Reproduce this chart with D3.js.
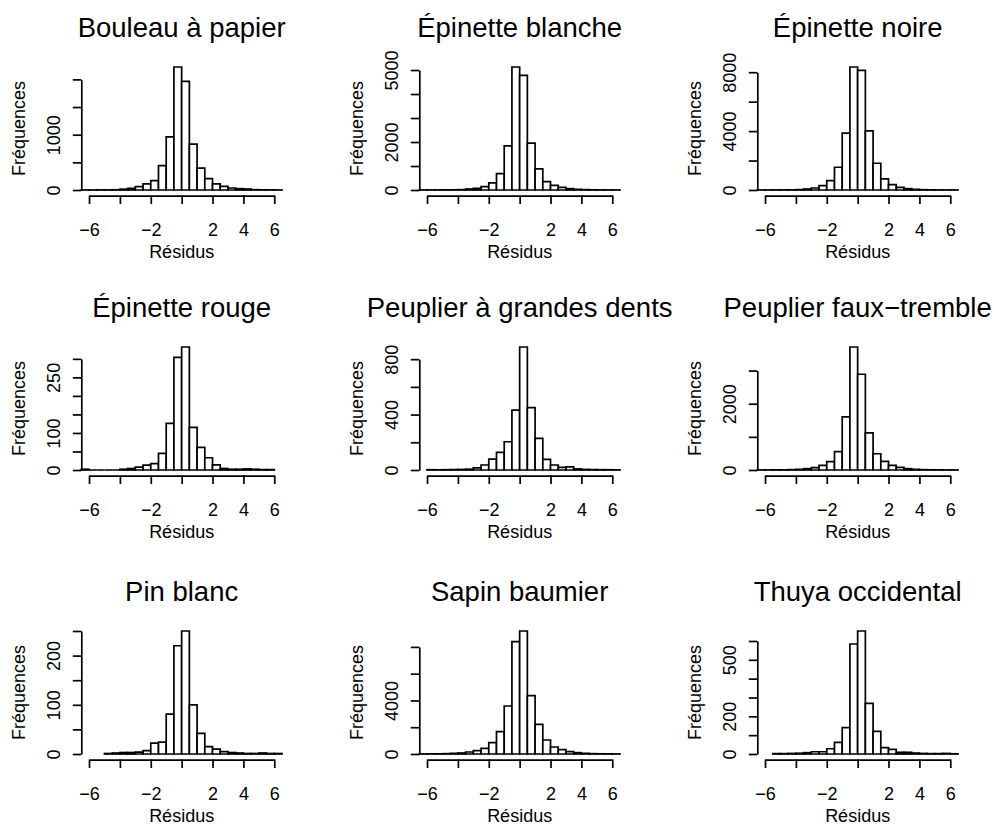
<!DOCTYPE html>
<html>
<head>
<meta charset="utf-8">
<script src="https://cdnjs.cloudflare.com/ajax/libs/d3/7.8.5/d3.min.js"></script>
<style>
body { margin: 0; background: #fff; }
svg text { font-family: "Liberation Sans", Arial, Helvetica, sans-serif; fill: #000; }
.title { font-size: 27.5px; }
.axis text, .lab { font-size: 18px; }
.bar { fill: #fff; stroke: #000; stroke-width: 1.7; }
.axis path, .axis line { stroke: #000; stroke-width: 1.7; }
</style>
</head>
<body>
<svg id="chart" width="994" height="826"></svg>
<script>
/* globals d3 */
"use strict";

// Data: residual histograms, bins of width 0.5

var species = [
    "Bouleau à papier", "Épinette blanche", "Épinette noire",
    "Épinette rouge", "Peuplier à grandes dents", "Peuplier faux−tremble",
    "Pin blanc", "Sapin baumier", "Thuya occidental"
];

// left edge of the first bin of each histogram
var firstBreak = [-6.5, -6.5, -6.5, -6.5, -6, -6.5, -5, -6.5, -5.5];
var binWidth = 0.5;

var bouleauPapier = [1, 1, 2, 2, 4, 15, 30, 60, 110, 170, 440, 960, 2224, 1964, 830, 394, 206, 109, 67, 36, 24, 18, 6, 3, 2, 1];
var epinetteBlanche = [2, 3, 4, 6, 8, 14, 42, 70, 139, 293, 683, 1839, 5126, 4778, 1950, 878, 348, 195, 111, 56, 28, 15, 8, 5, 3, 2];
var epinetteNoire = [3, 4, 6, 8, 12, 23, 68, 136, 295, 636, 1544, 3859, 8354, 8127, 4018, 1816, 749, 363, 182, 91, 45, 20, 10, 6, 4, 3];
var epinetteRouge = [2, 0, 0, 0, 0, 2, 4, 8, 13, 17, 45, 126, 304, 332, 115, 61, 33, 14, 4, 2, 2, 3, 2, 1, 1];
var peuplierGrandesDents = [2, 1, 2, 3, 4, 6, 15, 36, 79, 127, 204, 432, 888, 451, 228, 77, 36, 19, 22, 8, 4, 3, 2, 2, 1];
var peuplierFauxTremble = [2, 3, 4, 5, 10, 20, 40, 70, 140, 251, 552, 1605, 3711, 2889, 1123, 491, 261, 140, 80, 40, 20, 10, 6, 4, 3, 2];
var pinBlanc = [1, 2, 3, 3, 4, 7, 22, 24, 81, 220, 250, 100, 42, 15, 10, 5, 3, 2, 1, 1, 2, 1, 1];
var sapinBaumier = [5, 8, 12, 25, 50, 75, 149, 249, 423, 847, 1668, 3586, 8391, 9188, 4358, 2216, 1046, 523, 324, 174, 100, 50, 25, 15, 10, 5];
var thuyaOccidental = [2, 2, 3, 4, 7, 12, 12, 28, 62, 140, 584, 653, 269, 120, 34, 25, 9, 9, 5, 3, 2, 2, 3, 1];

var counts = [bouleauPapier, epinetteBlanche, epinetteNoire, epinetteRouge,
    peuplierGrandesDents, peuplierFauxTremble, pinBlanc, sapinBaumier, thuyaOccidental];

// y ticks: step between ticks, and which of them get a label (R drops the ones that would overlap)
var yTickStep = [500, 1000, 2000, 50, 200, 1000, 50, 2000, 100];
var yTickLabels = [
    [0, 1000], [0, 2000, 5000], [0, 4000, 8000],
    [0, 100, 250], [0, 400, 800], [0, 2000],
    [0, 100, 200], [0, 4000], [0, 200, 500]
];

var xTicks = [-6, -4, -2, 0, 2, 4, 6];
var xTickLabels = [-6, -2, 2, 4, 6];
var xDomain = [-6.5, 6.5];

// Layout of the 3x3 grid
var colLeft = [81.3, 419.3, 757.3],
    rowZero = [190, 470, 754],
    plotW = 200.7,
    barsH = 123,
    tickLen = 8.5;

var svg = d3.select("#chart");

function fmt(v) {
    return String(v).replace("-", "−");
}

function drawPanel(k) {
    var left = colLeft[k % 3],
        zero = rowZero[Math.floor(k / 3)],
        data = counts[k],
        bins,
        maxCount,
        x,
        y,
        g,
        axisY,
        lastTick,
        yTicks,
        xAxisScale,
        yAxisScale,
        gx,
        gy;

    bins = data.map(function (c, i) {
        var x0 = firstBreak[k] + i * binWidth;
        return {x0: x0, x1: x0 + binWidth, count: c};
    });
    maxCount = d3.max(data);

    x = d3.scaleLinear().domain(xDomain).range([left, left + plotW]);
    y = d3.scaleLinear().domain([0, maxCount]).range([zero, zero - barsH]);

    g = svg.append("g").attr("class", "panel");

    // bars drawn as closed paths so that empty bins still show as a line
    g.selectAll("path.bar")
        .data(bins)
        .enter().append("path")
        .attr("class", "bar")
        .attr("d", function (b) {
            return "M" + x(b.x0) + "," + y(0) +
                "V" + y(b.count) + "H" + x(b.x1) + "V" + y(0) + "Z";
        });

    // x axis sits on the bottom of the plot region (4% below zero)
    axisY = zero + 0.045 * barsH;
    xAxisScale = x.copy().domain([xTicks[0], xTicks[xTicks.length - 1]])
        .range([x(xTicks[0]), x(xTicks[xTicks.length - 1])]);
    gx = g.append("g")
        .attr("class", "axis")
        .attr("transform", "translate(0," + axisY + ")")
        .call(d3.axisBottom(xAxisScale)
            .tickValues(xTicks)
            .tickSize(tickLen)
            .tickSizeOuter(0)
            .tickPadding(19)
            .tickFormat(function (v) {
                return xTickLabels.indexOf(v) >= 0 ? fmt(v) : "";
            }));
    gx.attr("font-family", null).attr("font-size", null);

    // y axis, line only between first and last tick
    yTicks = d3.range(0, maxCount + 1, yTickStep[k]);
    lastTick = yTicks[yTicks.length - 1];
    yAxisScale = y.copy().domain([0, lastTick]).range([y(0), y(lastTick)]);
    gy = g.append("g")
        .attr("class", "axis")
        .attr("transform", "translate(" + left + ",0)")
        .call(d3.axisLeft(yAxisScale)
            .tickValues(yTicks)
            .tickSize(tickLen)
            .tickSizeOuter(0)
            .tickFormat(function (v) {
                return yTickLabels[k].indexOf(v) >= 0 ? fmt(v) : "";
            }));
    gy.attr("font-family", null).attr("font-size", null);
    // R draws y labels parallel to the axis
    gy.selectAll(".tick text")
        .attr("x", 0)
        .attr("y", -21.3)
        .attr("dy", null)
        .attr("text-anchor", "middle")
        .attr("transform", "rotate(-90)");

    // titles and axis labels
    g.append("text")
        .attr("class", "title")
        .attr("x", left + plotW / 2)
        .attr("y", zero - 153)
        .attr("text-anchor", "middle")
        .text(species[k]);

    g.append("text")
        .attr("class", "lab")
        .attr("x", left + plotW / 2)
        .attr("y", axisY + 62.5)
        .attr("text-anchor", "middle")
        .text("Résidus");

    g.append("text")
        .attr("class", "lab")
        .attr("text-anchor", "middle")
        .attr("transform", "translate(" + (left - 56) + "," + (zero - 61.5) + ") rotate(-90)")
        .text("Fréquences");
}

d3.range(species.length).forEach(drawPanel);
</script>
</body>
</html>
